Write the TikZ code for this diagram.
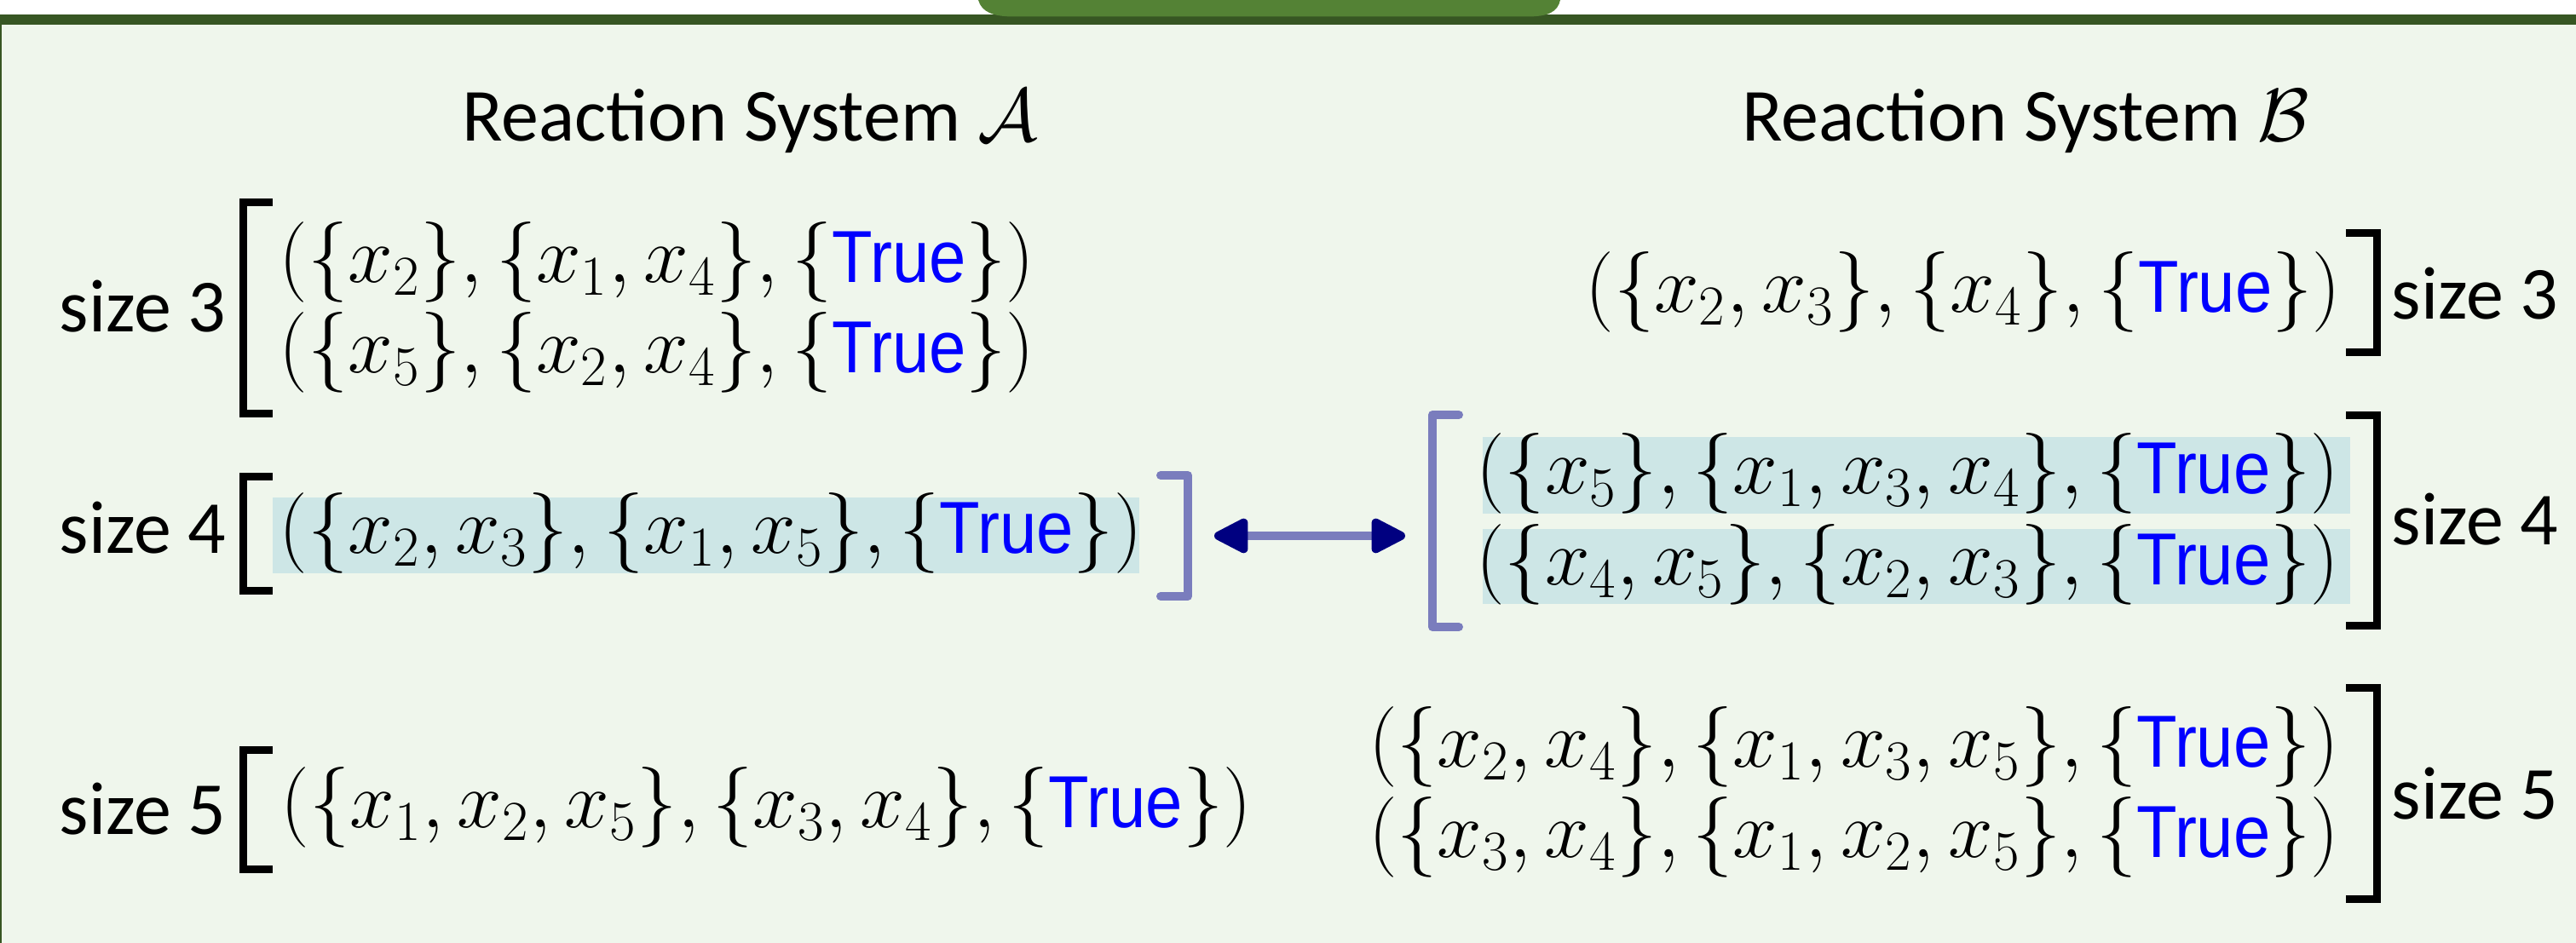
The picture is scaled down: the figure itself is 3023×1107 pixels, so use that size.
\RequirePackage{fix-cm}
\documentclass[tikz,border=0pt]{standalone}
\usepackage[no-math]{fontspec}
\setmainfont{Carlito}
\newfontfamily\truefont[FakeStretch=0.9]{Liberation Sans}
\usetikzlibrary{arrows.meta}
\definecolor{bggreen}{RGB}{239,246,236}
\definecolor{bardark}{RGB}{55,86,35}
\definecolor{tabgreen}{RGB}{84,130,53}
\definecolor{hlblue}{RGB}{205,230,230}
\definecolor{lav}{RGB}{122,125,189}
\definecolor{navyc}{RGB}{0,0,128}
\definecolor{trueblue}{RGB}{0,0,255}
\newcommand{\TrueTxt}{\mbox{\color{trueblue}\truefont\fontsize{24.6}{29}\selectfont True}}
\tikzset{
  row/.style={inner sep=0pt, font=\fontsize{26.9}{32}\selectfont},
  lab/.style={inner sep=0pt, font=\fontsize{25}{30}\selectfont},
  brk/.style={line width=0.09cm, line join=miter, draw=black},
  lbrk/.style={line width=0.1cm, line join=round, line cap=round, draw=lav},
  hl/.style={fill=hlblue},
  dbl/.style={line width=0.1cm, draw=lav,
    {Triangle[round,length=0.46cm,width=0.44cm,fill=navyc,color=navyc]}-{Triangle[round,length=0.46cm,width=0.44cm,fill=navyc,color=navyc]}}
}
\begin{document}
\begin{tikzpicture}[x=0.01cm,y=-0.01cm]
\useasboundingbox (0,0) rectangle (3023,1107);
% frame
\fill[bggreen] (0,29) rectangle (3023,1107);
\fill[bardark] (0,17) rectangle (3023,29);
\fill[bardark] (0,29) rectangle (2,1107);
\fill[tabgreen] (1148,0) .. controls (1152,14) and (1165,19.5) .. (1190,19.5) -- (1792,19.5) .. controls (1817,19.5) and (1828,14) .. (1831,0) -- cycle;
% titles
\node[lab, anchor=base] (tA) at (880,166) {Reaction System $\mathcal{A}$};
\node[lab, anchor=base] (tB) at (2377,166) {Reaction System $\mathcal{B}$};
% highlights
\fill[hl] (320,584) rectangle (1337,673);
\fill[hl] (1740,513) rectangle (2758,603);
\fill[hl] (1740,621) rectangle (2758,709);
% left rows
\node[row, anchor=base west] (a31) at (327,332) {$(\{x_2\},\{x_1,x_4\},\{\TrueTxt\})$};
\node[row, anchor=base west] (a32) at (327,438) {$(\{x_5\},\{x_2,x_4\},\{\TrueTxt\})$};
\node[row, anchor=base west] (a4) at (327,650) {$(\{x_2,x_3\},\{x_1,x_5\},\{\TrueTxt\})$};
\node[row, anchor=base west] (a5) at (329,972) {$(\{x_1,x_2,x_5\},\{x_3,x_4\},\{\TrueTxt\})$};
% right rows
\node[row, anchor=base east] (b3) at (2748,367) {$(\{x_2,x_3\},\{x_4\},\{\TrueTxt\})$};
\node[row, anchor=base east] (b41) at (2746,580) {$(\{x_5\},\{x_1,x_3,x_4\},\{\TrueTxt\})$};
\node[row, anchor=base east] (b42) at (2746,687) {$(\{x_4,x_5\},\{x_2,x_3\},\{\TrueTxt\})$};
\node[row, anchor=base east] (b51) at (2746,901) {$(\{x_2,x_4\},\{x_1,x_3,x_5\},\{\TrueTxt\})$};
\node[row, anchor=base east] (b52) at (2746,1007) {$(\{x_3,x_4\},\{x_1,x_2,x_5\},\{\TrueTxt\})$};
% labels
\node[lab, anchor=base east] (l3) at (266,390) {size 3};
\node[lab, anchor=base east] (l4) at (266,650) {size 4};
\node[lab, anchor=base east] (l5) at (266,980) {size 5};
\node[lab, anchor=base west] (r3) at (2806,375) {size 3};
\node[lab, anchor=base west] (r4) at (2806,640) {size 4};
\node[lab, anchor=base west] (r5) at (2806,962) {size 5};
% black brackets
\draw[brk] (320,237.5) -- (285,237.5) -- (285,486) -- (320,486);
\draw[brk] (320,559.5) -- (285,559.5) -- (285,693.5) -- (320,693.5);
\draw[brk] (320,880.5) -- (285,880.5) -- (285,1020.5) -- (320,1020.5);
\draw[brk] (2753,273.5) -- (2789,273.5) -- (2789,413.5) -- (2753,413.5);
\draw[brk] (2753,487.5) -- (2789,487.5) -- (2789,734.5) -- (2753,734.5);
\draw[brk] (2753,807.5) -- (2789.5,807.5) -- (2789.5,1056) -- (2753,1056);
% lavender brackets
\draw[lbrk] (1362,558) -- (1394,558) -- (1394,700) -- (1362,700);
\draw[lbrk] (1712,487) -- (1681,487) -- (1681,736) -- (1712,736);
% double arrow
\coordinate (arrL) at (1425,629);
\coordinate (arrR) at (1649,629);
\draw[dbl] (arrL) -- (arrR);
\end{tikzpicture}
\end{document}
